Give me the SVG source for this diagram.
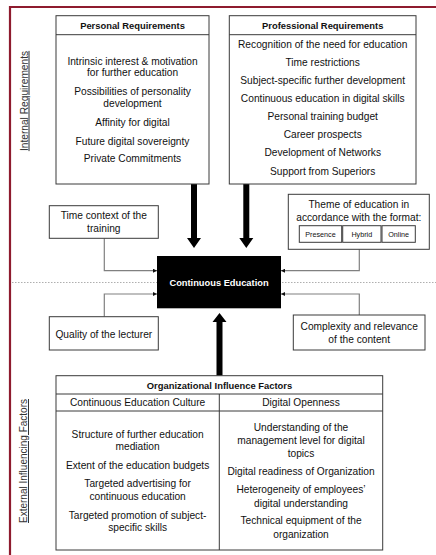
<svg xmlns="http://www.w3.org/2000/svg" width="436" height="555" viewBox="0 0 436 555">
<style>
.box{fill:#fff;stroke:#3a3a3a;stroke-width:1}
.ln{fill:none;stroke:#3a3a3a;stroke-width:1}
.t{font-family:"Liberation Sans",Arial,sans-serif;font-size:10.2px;fill:#111;text-anchor:middle}
.h{font-family:"Liberation Sans",Arial,sans-serif;font-size:9.4px;font-weight:bold;fill:#111;text-anchor:middle}
.s{font-family:"Liberation Sans",Arial,sans-serif;font-size:7.2px;fill:#111;text-anchor:middle}
.side{font-family:"Liberation Sans",Arial,sans-serif;font-size:10.2px;fill:#333;text-anchor:middle;text-decoration:underline}
.con{fill:none;stroke:#808080;stroke-width:1.2}
.big{fill:#000}
</style>
<defs>
<marker id="ah" viewBox="0 0 6 6" refX="6" refY="3" markerWidth="4" markerHeight="4" markerUnits="userSpaceOnUse" orient="auto">
<path d="M0,0 L6,3 L0,6 Z" fill="#111"/>
</marker>
</defs>
<rect width="436" height="555" fill="#fff"/>
<path d="M10 556 V7 H437" fill="none" stroke="#8e1b2e" stroke-width="2.2"/>
<line x1="12" y1="282.5" x2="436" y2="282.5" stroke="#9a9a9a" stroke-width="0.8" stroke-dasharray="1.5 1.5"/>

<text class="side" transform="translate(27.5 101) rotate(-90)">Internal Requirements</text>
<text class="side" style="font-size:10px" transform="translate(27 461) rotate(-90)">External Influencing Factors</text>

<g id="connectors">
<path class="con" d="M104.3 238.3 V270.7 H157" marker-end="url(#ah)"/>
<path class="con" d="M104.3 316.7 V294 H157" marker-end="url(#ah)"/>
<path class="con" d="M359.3 249.3 V270.7 H281" marker-end="url(#ah)"/>
<path class="con" d="M359.3 315 V294 H281" marker-end="url(#ah)"/>
<path class="big" d="M191 184 H197 V238 H201 L194 248 L187 238 H191 Z"/>
<path class="big" d="M243.3 184 H249.3 V238 H253.3 L246.3 248 L239.3 238 H243.3 Z"/>
<path class="big" d="M216.5 375.7 H222.5 V322 H226.5 L219.5 313 L212.5 322 H216.5 Z"/>
</g>

<g id="personal">
<rect class="box" x="56" y="15.7" width="153" height="168.3"/>
<line class="ln" x1="56" y1="34.7" x2="209" y2="34.7"/>
<text class="h" x="132.5" y="29">Personal Requirements</text>
<text class="t" x="132.5" y="64.5">Intrinsic interest &amp; motivation</text>
<text class="t" x="132.5" y="76">for further education</text>
<text class="t" x="132.5" y="94.5">Possibilities of personality</text>
<text class="t" x="132.5" y="107">development</text>
<text class="t" x="132.5" y="126">Affinity for digital</text>
<text class="t" x="132.5" y="145">Future digital sovereignty</text>
<text class="t" x="132.5" y="162">Private Commitments</text>
</g>

<g id="professional">
<rect class="box" x="229.3" y="15.7" width="186.7" height="168.3"/>
<line class="ln" x1="229.3" y1="34.7" x2="416" y2="34.7"/>
<text class="h" x="322.7" y="29">Professional Requirements</text>
<text class="t" x="322.7" y="47.5">Recognition of the need for education</text>
<text class="t" x="322.7" y="65.6">Time restrictions</text>
<text class="t" x="322.7" y="83.8">Subject-specific further development</text>
<text class="t" x="322.7" y="101.9">Continuous education in digital skills</text>
<text class="t" x="322.7" y="120.1">Personal training budget</text>
<text class="t" x="322.7" y="138.2">Career prospects</text>
<text class="t" x="322.7" y="156.3">Development of Networks</text>
<text class="t" x="322.7" y="174.5">Support from Superiors</text>
</g>

<g id="time-context">
<rect class="box" x="49.3" y="205.7" width="109" height="32.6"/>
<text class="t" x="103.8" y="219.2">Time context of the</text>
<text class="t" x="103.8" y="231.8">training</text>
</g>

<g id="quality">
<rect class="box" x="49.3" y="316.7" width="109" height="33.3"/>
<text class="t" x="103.8" y="337.5">Quality of the lecturer</text>
</g>

<g id="theme">
<rect class="box" x="288.3" y="194.3" width="141" height="55"/>
<text class="t" x="358.8" y="207.5">Theme of education in</text>
<text class="t" x="358.8" y="220.8">accordance with the format:</text>
<rect class="box" x="299.3" y="225.7" width="42.4" height="16.6"/>
<rect class="box" x="342.7" y="225.7" width="38.3" height="16.6"/>
<rect class="box" x="382" y="225.7" width="33.3" height="16.6"/>
<text class="s" x="320.5" y="236.5">Presence</text>
<text class="s" x="361.8" y="236.5">Hybrid</text>
<text class="s" x="398.6" y="236.5">Online</text>
</g>

<g id="complexity">
<rect class="box" x="293.3" y="315" width="131.7" height="35"/>
<text class="t" x="359.2" y="330.2">Complexity and relevance</text>
<text class="t" x="359.2" y="342.5">of the content</text>
</g>

<g id="continuous-education">
<rect x="157" y="256" width="124" height="52.3" fill="#000"/>
<text class="h" x="219" y="285.6" style="fill:#fff;font-size:9.3px">Continuous Education</text>
</g>

<g id="organizational">
<rect class="box" x="56" y="375.7" width="326.7" height="174.3"/>
<line class="ln" x1="56" y1="394" x2="382.7" y2="394"/>
<line class="ln" x1="56" y1="411" x2="382.7" y2="411"/>
<line class="ln" x1="219.3" y1="394" x2="219.3" y2="550"/>
<text class="h" x="219.5" y="388.5">Organizational Influence Factors</text>
<text class="t" x="137.6" y="406.2">Continuous Education Culture</text>
<text class="t" x="301" y="406.2">Digital Openness</text>
<text class="t" x="137.6" y="437.5">Structure of further education</text>
<text class="t" x="137.6" y="450.2">mediation</text>
<text class="t" x="137.6" y="468.5">Extent of the education budgets</text>
<text class="t" x="137.6" y="486.8">Targeted advertising for</text>
<text class="t" x="137.6" y="500.2">continuous education</text>
<text class="t" x="137.6" y="519.2">Targeted promotion of subject-</text>
<text class="t" x="137.6" y="530.8">specific skills</text>
<text class="t" x="301" y="430.8">Understanding of the</text>
<text class="t" x="301" y="444.2">management level for digital</text>
<text class="t" x="301" y="456.8">topics</text>
<text class="t" x="301" y="475.2">Digital readiness of Organization</text>
<text class="t" x="301" y="492.8">Heterogeneity of employees’</text>
<text class="t" x="301" y="506.8">digital understanding</text>
<text class="t" x="301" y="524.2">Technical equipment of the</text>
<text class="t" x="301" y="537.5">organization</text>
</g>
</svg>
